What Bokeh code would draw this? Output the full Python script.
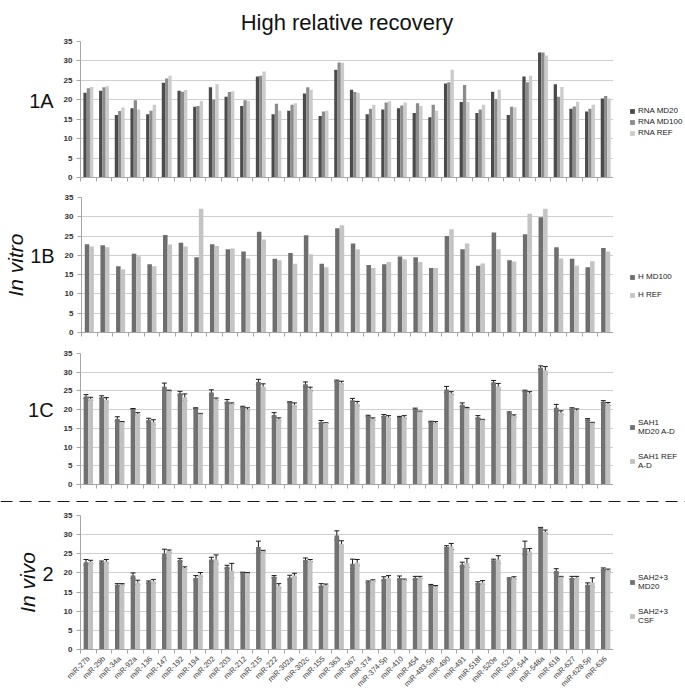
import math
import numpy as np
from bokeh.plotting import figure
from bokeh.models import (Range1d, FixedTicker, ColumnDataSource, Legend, LegendItem,
                          Whisker, TeeHead, Span, Title)
from bokeh.layouts import column, row
from bokeh.embed import file_html
from bokeh.resources import INLINE

# ---------------- data ----------------
mirs = ["miR-27b", "miR-29b", "miR-34a", "miR-92a", "miR-136", "miR-147", "miR-192", "miR-194",
        "miR-202", "miR-203", "miR-212", "miR-215", "miR-222", "miR-302a", "miR-302c", "miR-155",
        "miR-363", "miR-367", "miR-374", "miR-374-5p", "miR-410", "miR-454", "miR-483-5p", "miR-490",
        "miR-491", "miR-518f", "miR-520e", "miR-523", "miR-544", "miR-548a", "miR-618", "miR-627",
        "miR-628-5p", "miR-636"]

rna_md20 = [21.8, 22.3, 16.1, 17.8, 16.3, 24.4, 22.3, 18.2, 23.2, 20.8, 18.4, 26.0, 16.3, 17.2, 21.6, 15.8, 27.7,
            22.6, 16.3, 17.5, 17.8, 16.6, 15.5, 24.2, 19.4, 16.6, 22.1, 16.1, 26.0, 32.2, 24.0, 17.7, 17.0, 20.3]
rna_md100 = [23.0, 23.2, 17.1, 19.9, 17.2, 25.5, 22.1, 18.4, 20.1, 22.0, 19.9, 26.2, 19.0, 18.7, 23.2, 17.0, 29.6,
             22.0, 17.7, 19.3, 18.5, 19.1, 18.7, 24.5, 23.8, 17.5, 20.2, 18.2, 24.5, 32.2, 20.8, 18.3, 17.7, 21.0]
rna_ref = [23.3, 23.5, 18.0, 17.5, 18.7, 26.2, 22.5, 19.7, 24.0, 22.2, 19.7, 27.3, 17.2, 19.1, 22.6, 17.2, 29.5,
           21.8, 18.7, 19.6, 19.3, 18.4, 17.2, 27.7, 19.4, 18.7, 22.6, 18.1, 26.2, 31.4, 23.3, 19.5, 18.7, 20.3]

h_md100 = [22.9, 22.6, 17.2, 20.4, 17.7, 25.3, 23.3, 19.5, 22.9, 21.6, 21.0, 26.1, 19.1, 20.6, 25.2, 17.8, 27.0,
           23.1, 17.5, 17.7, 19.7, 19.5, 16.7, 25.0, 21.6, 17.3, 25.9, 18.7, 25.5, 29.9, 22.1, 19.1, 16.9, 21.9]
h_ref = [22.3, 22.1, 16.4, 19.8, 17.2, 22.8, 22.3, 32.1, 22.4, 21.8, 19.2, 24.1, 18.7, 17.8, 20.3, 16.9, 27.8,
         21.6, 16.7, 18.3, 19.0, 18.3, 16.7, 26.8, 23.1, 17.9, 21.6, 18.4, 30.8, 32.1, 19.2, 17.3, 18.5, 21.0]

sah1_md20 = [23.5, 23.3, 17.5, 20.2, 17.2, 26.1, 24.4, 20.4, 24.6, 22.2, 20.7, 27.4, 18.6, 22.0, 26.8, 16.7, 27.7,
             22.5, 18.3, 18.4, 18.0, 20.2, 16.7, 25.4, 21.3, 18.0, 27.3, 19.2, 25.0, 31.2, 20.5, 20.3, 17.4, 22.1]
sah1_md20_err = [0.5, 0.4, 0.6, 0.1, 0.5, 1.0, 0.5, 0.1, 0.7, 0.5, 0.2, 0.7, 0.6, 0.1, 0.6, 0.4, 0.2,
                 0.5, 0.2, 0.3, 0.2, 0.2, 0.2, 0.8, 0.5, 0.4, 0.5, 0.2, 0.2, 0.5, 0.9, 0.2, 0.2, 0.3]
sah1_ref = [22.9, 22.6, 16.7, 18.9, 16.6, 25.0, 23.3, 18.9, 22.8, 21.6, 20.1, 26.2, 17.4, 21.3, 25.5, 16.4, 27.2,
            21.6, 17.5, 18.0, 18.0, 19.5, 16.5, 24.4, 20.4, 17.3, 26.2, 18.3, 24.3, 30.5, 19.2, 19.8, 16.5, 21.5]
sah1_ref_err = [0.4, 0.6, 0.1, 0.3, 0.7, 0.2, 0.9, 0.1, 0.3, 0.2, 0.4, 0.7, 0.4, 0.5, 0.5, 0.1, 0.4,
                0.6, 0.3, 0.4, 0.4, 0.1, 0.3, 0.4, 0.2, 0.1, 0.8, 0.3, 0.5, 1.0, 0.5, 0.4, 0.1, 0.4]

sah23_md20 = [22.8, 22.8, 16.9, 19.3, 17.6, 25.0, 23.4, 18.7, 23.5, 21.6, 20.1, 26.8, 19.0, 18.8, 23.4, 16.7, 29.8,
              22.4, 17.7, 18.5, 18.7, 18.7, 16.8, 26.8, 22.2, 17.4, 23.3, 18.5, 26.5, 31.8, 20.5, 18.7, 16.9, 21.0]
sah23_md20_err = [0.7, 0.3, 0.3, 0.7, 0.3, 1.2, 0.4, 0.6, 0.6, 0.4, 0.1, 1.5, 0.3, 0.6, 0.5, 0.5, 1.2,
                  1.2, 0.2, 0.5, 0.5, 0.4, 0.2, 0.3, 0.6, 0.3, 0.3, 0.2, 1.8, 0.1, 0.6, 0.4, 0.5, 0.3]
sah23_csf = [22.9, 23.0, 17.0, 17.5, 17.8, 25.7, 21.3, 19.6, 23.5, 20.6, 20.0, 25.7, 16.6, 19.3, 23.2, 16.8, 27.6,
             22.7, 18.0, 18.7, 18.2, 18.8, 16.5, 26.9, 22.6, 17.5, 23.5, 18.7, 25.6, 30.7, 19.0, 18.8, 17.5, 20.7]
sah23_csf_err = [0.4, 0.5, 0.2, 0.6, 0.5, 0.3, 0.3, 0.5, 1.2, 1.9, 0.1, 0.2, 0.6, 0.6, 0.3, 0.3, 0.8,
                 0.8, 0.2, 0.6, 0.2, 0.3, 0.2, 0.8, 1.2, 0.5, 1.0, 0.3, 0.8, 0.5, 0.1, 0.3, 1.2, 0.3]

y_ticks = [0, 5, 10, 15, 20, 25, 30, 35]

# ---------------- helpers ----------------
N = len(mirs)
centers = np.arange(N) + 0.5
AXIS_COL = "#a6a6a6"
TXT = "#222222"
FONT = "Liberation Sans"
PW = 613   # width of each chart figure (frame 80..613)
LW = 72    # width of the legend strip to the right


def make_panel(height, top, bottom, series, names, colors, bar_w, legend_xy, legend_spacing,
               side, errs=None, show_labels=False):
    p = figure(width=PW, height=height, x_range=Range1d(0, N), y_range=Range1d(0, 35),
               output_backend="svg", toolbar_location=None,
               min_border_left=80, min_border_right=0, min_border_top=top, min_border_bottom=bottom,
               outline_line_color=None)
    p.xgrid.visible = False
    p.ygrid.grid_line_color = "#d0d0d0"
    p.ygrid.grid_line_width = 1
    ya = p.yaxis[0]
    ya.ticker = FixedTicker(ticks=y_ticks)
    ya.axis_line_color = AXIS_COL
    ya.major_tick_line_color = AXIS_COL
    ya.major_tick_out = 4
    ya.major_tick_in = 0
    ya.minor_tick_line_color = None
    ya.major_label_text_font = FONT
    ya.major_label_text_font_size = "8px"
    ya.major_label_text_font_style = "bold"
    ya.major_label_text_color = "#333333"
    ya.major_label_standoff = 4
    # panel tag ("1A", ...); the empty second line lifts it slightly above the frame centre
    ya.axis_label = side + "\n"
    ya.axis_label_orientation = "horizontal"
    ya.axis_label_text_font = FONT
    ya.axis_label_text_font_size = "20px"
    ya.axis_label_text_font_style = "normal"
    ya.axis_label_text_color = "#111111"
    ya.axis_label_text_line_height = 0.8
    ya.axis_label_standoff = 7

    xa = p.xaxis[0]
    bounds = list(range(N + 1))
    if show_labels:
        xa.ticker = FixedTicker(ticks=list(centers), minor_ticks=bounds)
        xa.major_label_overrides = {float(c): m for c, m in zip(centers, mirs)}
        xa.major_label_orientation = math.pi / 4
        xa.major_label_text_font = FONT
        xa.major_label_text_font_size = "7.5px"
        xa.major_label_text_color = "#3a3a3a"
        xa.major_label_standoff = 4
    else:
        xa.ticker = FixedTicker(ticks=[], minor_ticks=bounds)
        xa.major_label_text_font_size = "0px"
        xa.major_label_standoff = 0
    xa.major_tick_out = 0
    xa.major_tick_in = 0
    xa.major_tick_line_color = None
    xa.minor_tick_line_color = AXIS_COL
    xa.minor_tick_out = 4
    xa.minor_tick_in = 0
    xa.axis_line_color = AXIS_COL

    # legend strip (same height) to the right of the chart; its x range lies outside the
    # data, so the series drawn into it only feed the legend swatches
    lf = figure(width=LW, height=height, x_range=Range1d(-3, -2), y_range=Range1d(0, 35),
                output_backend="svg", toolbar_location=None, x_axis_type=None, y_axis_type=None,
                min_border=0, outline_line_color=None, title=None)
    lf.grid.visible = False

    n = len(series)
    items = []
    for k, (vals, name, col) in enumerate(zip(series, names, colors)):
        off = (k - (n - 1) / 2) * bar_w
        data = dict(x=centers + off, top=vals)
        if errs is not None:
            e = np.array(errs[k])
            data["upper"] = np.array(vals) + e
            data["lower"] = np.array(vals) - e
        src = ColumnDataSource(data)
        p.vbar(x="x", top="top", width=bar_w, source=src, fill_color=col, line_color=None)
        if errs is not None:
            w = Whisker(source=src, base="x", upper="upper", lower="lower",
                        line_color="#1a1a1a", line_width=1,
                        upper_head=TeeHead(size=5, line_color="#1a1a1a", line_width=1),
                        lower_head=TeeHead(size=5, line_color="#1a1a1a", line_width=1))
            p.add_layout(w)
        sw = lf.vbar(x="x", top="top", width=bar_w, source=src, fill_color=col, line_color=None)
        items.append(LegendItem(label=name, renderers=[sw]))

    leg = Legend(items=items, location=legend_xy, border_line_color=None,
                 background_fill_alpha=0, padding=0, margin=0, spacing=legend_spacing,
                 glyph_width=6, glyph_height=6, label_standoff=3, label_height=8,
                 label_text_font=FONT, label_text_font_size="8px", label_text_color=TXT,
                 label_text_line_height=1.4)
    lf.add_layout(leg)
    return p, lf


def group_title(p, text, offset):
    t = Title(text=text, align="center", offset=offset, standoff=2,
              text_font=FONT, text_font_size="21px", text_font_style="italic",
              text_color="#111111")
    p.add_layout(t, "left")


pA, lA = make_panel(186, 41, 9, [rna_md20, rna_md100, rna_ref], ["RNA MD20", "RNA MD100", "RNA REF"],
                    ["#4b4b4b", "#8c8c8c", "#cbcbcb"], 0.21, (16, 40), 2, "1A")
pA.title.text = "High relative recovery"
pA.title.text_font = FONT
pA.title.text_font_size = "22px"
pA.title.text_font_style = "normal"
pA.title.text_color = "#111111"
pA.title.align = "center"
pA.title.standoff = 14

pB, lB = make_panel(156, 11, 10, [h_md100, h_ref], ["H MD100", "H REF"],
                    ["#6e6e6e", "#c4c4c4"], 0.29, (16, 33), 9, "1B")
group_title(pB, "In vitro", 14)

pC, lC = make_panel(152, 11, 10, [sah1_md20, sah1_ref], ["SAH1\nMD20 A-D", "SAH1 REF\nA-D"],
                    ["#717171", "#c1c1c1"], 0.3, (16, 14), 16, "1C", errs=[sah1_md20_err, sah1_ref_err])

# dashed separator between the in-vitro and in-vivo groups
pSep = figure(width=PW + LW, height=8, x_range=Range1d(0, 1), y_range=Range1d(0, 1),
              output_backend="svg", toolbar_location=None, x_axis_type=None, y_axis_type=None,
              min_border=0, outline_line_color=None, title=None)
pSep.grid.visible = False
pSep.add_layout(Span(location=0.5, dimension="width", line_color="#1a1a1a",
                     line_width=3, line_dash="12 7"))

pD, lD = make_panel(192, 13, 42, [sah23_md20, sah23_csf], ["SAH2+3\nMD20", "SAH2+3\nCSF"],
                    ["#717171", "#c1c1c1"], 0.3, (16, 24), 16, "2", errs=[sah23_md20_err, sah23_csf_err],
                    show_labels=True)
group_title(pD, "In vivo", 9)

layout = column(row(pA, lA, spacing=0), row(pB, lB, spacing=0), row(pC, lC, spacing=0),
                pSep, row(pD, lD, spacing=0), spacing=0)

open("out.html", "w").write(file_html(layout, INLINE))
